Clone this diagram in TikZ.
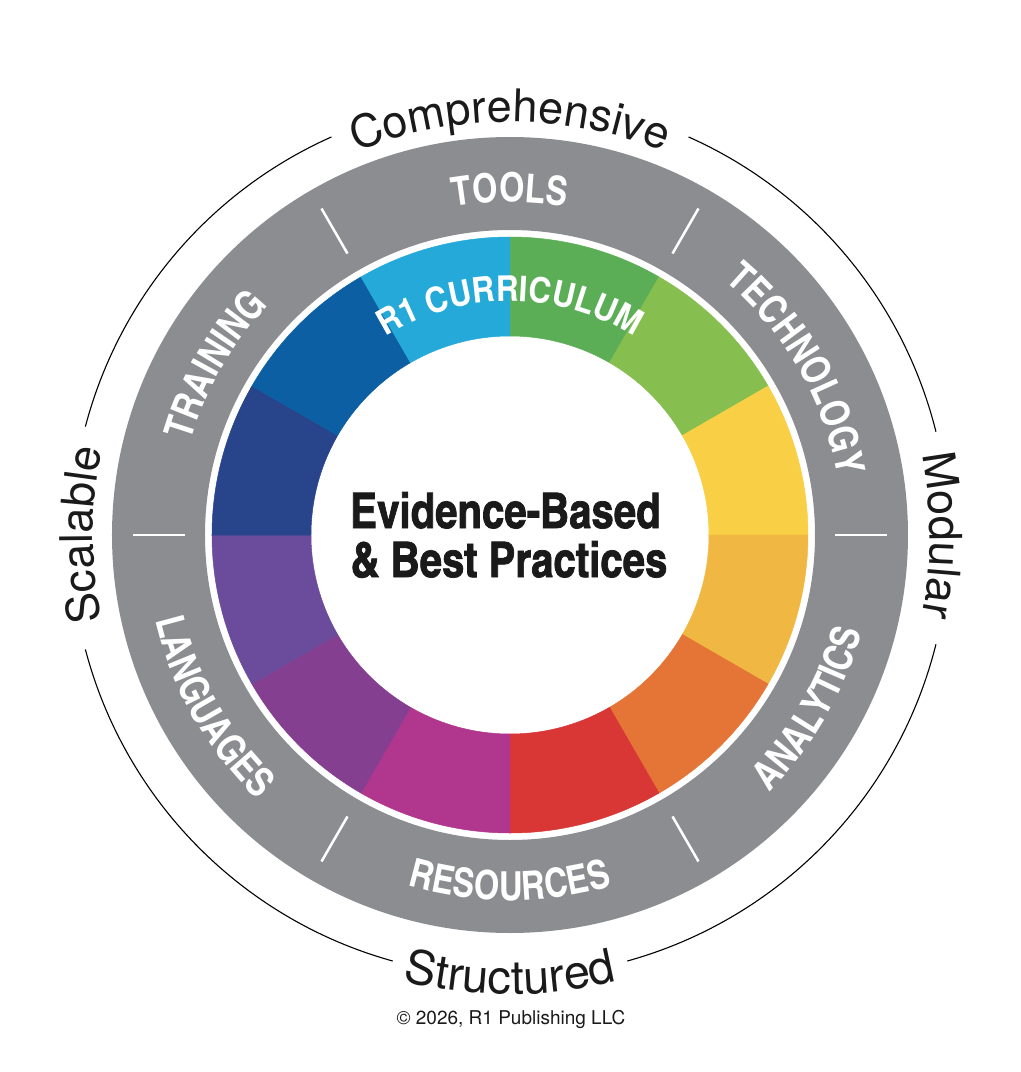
\documentclass[tikz,border=0pt]{standalone}
\usepackage{fontspec}
\setmainfont{TeX Gyre Heros}
\newfontface\cnbold{texgyreheroscn-bold.otf}
\newfontface\cnheavy{texgyreheroscn-bold.otf}[FakeBold=1.5]
\newfontfamily\semicond{TeX Gyre Heros}[FakeStretch=0.9]
\usetikzlibrary{decorations.text}
\definecolor{ringgray}{HTML}{8C8D90}
\definecolor{cgreen}{HTML}{5BAE56}
\definecolor{clgreen}{HTML}{86BE4F}
\definecolor{cyellow}{HTML}{F8CF45}
\definecolor{cyorange}{HTML}{F0B843}
\definecolor{corange}{HTML}{E47536}
\definecolor{cred}{HTML}{D83735}
\definecolor{cmagenta}{HTML}{B0368E}
\definecolor{cplum}{HTML}{843F91}
\definecolor{cpurple}{HTML}{6B4C9C}
\definecolor{cnavy}{HTML}{28448B}
\definecolor{cblue}{HTML}{0C5FA2}
\definecolor{clblue}{HTML}{25A9D8}
\definecolor{textdark}{HTML}{1A1A1A}
\tikzset{
  graylabel/.style={decorate, decoration={text along path, text align=center, text color=white,
      text={|\cnbold\fontsize{40}{40}\selectfont|#1}}},
  outerword/.style={decorate, decoration={text along path, text align=center, text color=textdark,
      text={|\fontsize{45}{45}\selectfont|#1}}},
  outerwordbig/.style={decorate, decoration={text along path, text align=center, text color=textdark,
      text={|\fontsize{47}{47}\selectfont|#1}}},
  divider/.style={white, line width=2.5pt},
  thinring/.style={black, line width=1.1pt},
  centertext/.style={font=\cnheavy\fontsize{49}{49}\selectfont, text=textdark, anchor=base, inner sep=0pt}
}
\begin{document}
\begin{tikzpicture}[x=1pt,y=1pt]
\useasboundingbox (-510,-537) rectangle (511,535);
% gray ring
\fill[ringgray, even odd rule] (0,0) circle[radius=398pt] (0,0) circle[radius=305pt];
% colour segments
\foreach \a/\c in {60/cgreen,30/clgreen,0/cyellow,-30/cyorange,-60/corange,-90/cred,-120/cmagenta,-150/cplum,-180/cpurple,150/cnavy,120/cblue,90/clblue}{
  \filldraw[fill=\c, draw=\c, line width=0.5pt, line join=round]
    (\a:199pt) arc[start angle=\a, end angle=\a+30, radius=199pt]
    -- (\a+30:298pt) arc[start angle=\a+30, end angle=\a, radius=298pt] -- cycle;
}
% dividers in gray ring
\foreach \a in {0,60,120,180,240,300}{
  \draw[divider] (\a:325pt) -- (\a:377pt);
}
% gray ring labels (top: clockwise, bottom: counter-clockwise)
\path[graylabel=TOOLS] (150:333pt) arc[start angle=150, end angle=30, radius=333pt];
\path[graylabel=TECHNOLOGY] (90:333pt) arc[start angle=90, end angle=-30, radius=333pt];
\path[graylabel=TRAINING] (210:333pt) arc[start angle=210, end angle=90, radius=333pt];
\path[graylabel=RESOURCES] (210:365pt) arc[start angle=210, end angle=330, radius=365pt];
\path[graylabel=ANALYTICS] (270:365pt) arc[start angle=270, end angle=390, radius=365pt];
\path[graylabel=LANGUAGES] (150:365pt) arc[start angle=150, end angle=270, radius=365pt];
% inner label
\path[decorate, decoration={text along path, text align=center, text color=white,
      text={|\semicond\bfseries\fontsize{35}{35}\selectfont|R1 CURRICULUM}}]
  (150:234pt) arc[start angle=150, end angle=30, radius=234pt];
% thin outer ring with gaps
\begin{scope}[shift={(0,-3)}]
\draw[thinring] (14:439pt) arc[start angle=14, end angle=66, radius=439pt];
\draw[thinring] (114:439pt) arc[start angle=114, end angle=165.3, radius=439pt];
\draw[thinring] (194.7:439pt) arc[start angle=194.7, end angle=254.5, radius=439pt];
\draw[thinring] (285.5:439pt) arc[start angle=285.5, end angle=346, radius=439pt];
\end{scope}
% outer words
\path[outerword=Comprehensive] (150:413pt) arc[start angle=150, end angle=30, radius=413pt];
\path[outerword=Modular] (60:420pt) arc[start angle=60, end angle=-60, radius=420pt];
\path[outerword=Scalable] (240:417pt) arc[start angle=240, end angle=120, radius=417pt];
\path[outerwordbig=Structured] (210:459pt) arc[start angle=210, end angle=330, radius=459pt];
% centre text
\node[centertext] (l1) at (-4.5,7) {Evidence-Based};
\node[centertext] (l2) at (-1,-42) {\& Best Practices};
% copyright
\node[font=\fontsize{19}{19}\selectfont, text=textdark, anchor=base, inner sep=0pt] (copy) at (1,-489) {© 2026, R1 Publishing LLC};
\end{tikzpicture}
\end{document}
